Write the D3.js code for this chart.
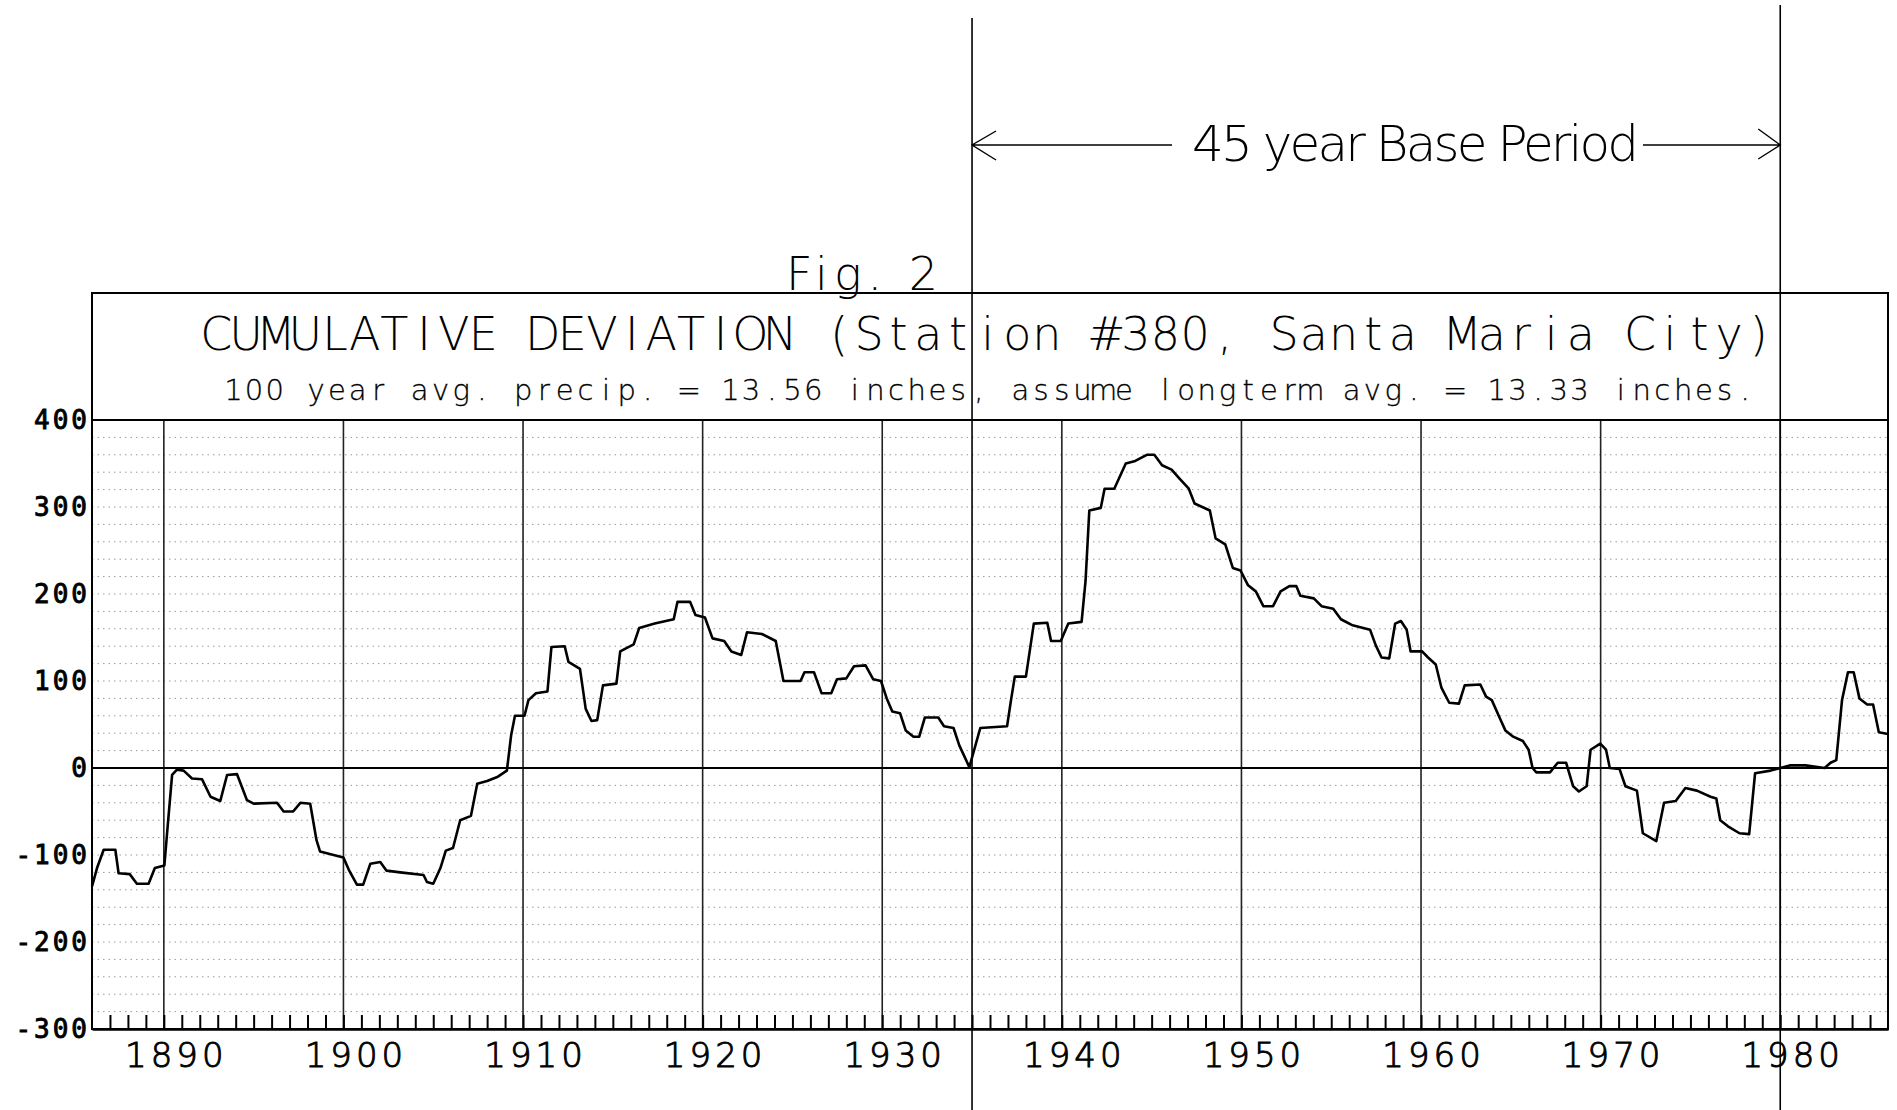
<!DOCTYPE html>
<html>
<head>
<meta charset="utf-8">
<script src="https://cdn.jsdelivr.net/npm/d3@7"></script>
<style>
body { margin: 0; background: #fff; }
svg { display: block; }
</style>
</head>
<body>
<div id="chart"></div>
<script>
// cumulative deviation
var years = [
  1886.0, 1886.28, 1886.65, 1887.3, 1887.48, 1888.1, 1888.5, 1889.15, 1889.5, 1890.03,
  1890.18, 1890.46, 1890.73, 1891.1, 1891.57, 1892.13, 1892.6, 1893.14, 1893.52, 1894.07,
  1894.63, 1895.0, 1896.3, 1896.67, 1897.2, 1897.6, 1898.15, 1898.5, 1898.7, 1899.45,
  1900.0, 1900.3, 1900.75, 1901.1, 1901.5, 1902.05, 1902.4, 1903.16, 1904.46, 1904.65,
  1905.0, 1905.4, 1905.7, 1906.1, 1906.5, 1907.1, 1907.45, 1908.0, 1908.6, 1909.1,
  1909.34, 1909.55, 1910.08, 1910.3, 1910.72, 1911.36, 1911.58, 1912.32, 1912.53, 1913.17,
  1913.49, 1913.81, 1914.13, 1914.45, 1915.2, 1915.41, 1916.16, 1916.47, 1917.33, 1918.39,
  1918.6, 1919.3, 1919.6, 1920.13, 1920.55, 1921.2, 1921.6, 1922.15, 1922.47, 1923.3,
  1924.07, 1924.5, 1925.45, 1925.67, 1926.2, 1926.62, 1927.16, 1927.48, 1928.0, 1928.43,
  1929.07, 1929.5, 1929.93, 1930.25, 1930.56, 1930.99, 1931.31, 1931.74, 1932.06, 1932.37,
  1933.12, 1933.44, 1933.97, 1934.29, 1934.85, 1935.46, 1936.95, 1937.17, 1937.38, 1938.0,
  1938.44, 1939.19, 1939.4, 1939.94, 1940.36, 1941.1, 1941.32, 1941.53, 1942.17, 1942.38,
  1942.92, 1943.56, 1944.09, 1944.73, 1945.15, 1945.58, 1946.11, 1946.54, 1947.07, 1947.39,
  1948.24, 1948.56, 1949.1, 1949.52, 1949.95, 1950.37, 1950.8, 1951.22, 1951.76, 1952.18,
  1952.67, 1953.06, 1953.28, 1954.03, 1954.46, 1955.11, 1955.54, 1956.19, 1957.16, 1957.48,
  1957.8, 1958.23, 1958.56, 1958.88, 1959.2, 1959.42, 1960.06, 1960.39, 1960.82, 1961.14,
  1961.57, 1962.11, 1962.43, 1963.3, 1963.62, 1963.94, 1964.37, 1964.7, 1965.13, 1965.67,
  1965.99, 1966.21, 1966.42, 1967.18, 1967.61, 1968.08, 1968.47, 1968.79, 1969.22, 1969.44,
  1969.98, 1970.3, 1970.51, 1971.05, 1971.38, 1972.02, 1972.35, 1973.1, 1973.53, 1974.18,
  1974.72, 1975.36, 1976.12, 1976.44, 1976.66, 1977.09, 1977.73, 1978.27, 1978.6, 1979.46,
  1980.53, 1981.4, 1982.47, 1982.8, 1983.12, 1983.44, 1983.77, 1984.09, 1984.41, 1984.84,
  1985.17, 1985.49, 1986.0
];
var deviation = [
  -136, -115, -94, -94, -121, -122, -133, -133, -115, -112,
  -75, -8, -2, -3, -12, -13, -33, -38, -8, -7,
  -37, -41, -40, -50, -50, -40, -41, -83, -96, -100,
  -103, -117, -134, -134, -110, -108, -118, -120, -123, -131,
  -133, -115, -95, -92, -60, -55, -18, -15, -10, -3,
  38, 60, 60, 78, 86, 88, 139, 140, 122, 114,
  68, 54, 55, 95, 97, 134, 142, 161, 166, 171,
  191, 191, 176, 173, 149, 146, 134, 130, 156, 154,
  146, 100, 100, 110, 110, 86, 86, 102, 103, 117,
  118, 102, 100, 80, 65, 63, 43, 36, 36, 58,
  58, 48, 46, 26, 1, 46, 48, 78, 105, 105,
  166, 167, 146, 146, 166, 168, 215, 296, 299, 321,
  321, 350, 353, 360, 360, 348, 343, 333, 321, 304,
  296, 264, 257, 230, 227, 210, 203, 186, 186, 203,
  209, 209, 198, 195, 186, 183, 171, 164, 159, 141,
  127, 126, 166, 169, 159, 134, 134, 127, 119, 92,
  75, 74, 95, 96, 82, 78, 58, 43, 36, 31,
  21, 0, -5, -5, 6, 6, -21, -27, -21, 21,
  28, 21, 0, -1, -21, -26, -75, -84, -40, -38,
  -23, -26, -33, -35, -60, -67, -75, -76, -6, -3,
  3, 3, 0, 6, 9, 78, 110, 110, 80, 73,
  73, 41, 39
];

var yTicks = [400, 300, 200, 100, 0, -100, -200, -300];
var decades = [1890, 1900, 1910, 1920, 1930, 1940, 1950, 1960, 1970, 1980];
var basePeriod = [1935, 1980];

var titleText = "CUMULATIVE DEVIATION (Station #380, Santa Maria City)";
var subtitleText = "100 year avg. precip. = 13.56 inches, assume longterm avg. = 13.33 inches.";
var baseNote = "45 year Base Period";
var figNote = "Fig. 2";

var width = 1897;
var height = 1110;
var plotFont = "'DejaVu Sans Mono', 'Liberation Mono', monospace";
var thinFont = "'DejaVu Sans', 'Noto Sans', sans-serif";

var svg = d3.select("#chart").append("svg")
  .attr("width", width)
  .attr("height", height);

var x = d3.scaleLinear().domain([1886, 1986]).range([92, 1888]);
var y = d3.scaleLinear().domain([-300, 400]).range([1029, 420]);
var headTop = 293;

//plotter text is fixed pitch: one cell per character, glyph centred in it
function cellCentres(str, start, pitch) {
  return d3.range(str.length).map(function(i) { return (start + (i + 0.5) * pitch).toFixed(1); }).join(" ");
}

//faint dotted lines every 20
var dots = d3.range(-280, 400, 20).filter(function(d) { return d !== 0; });
svg.append("g").selectAll("line")
  .data(dots)
  .enter().append("line")
  .attr("x1", x(1886)).attr("x2", x(1986))
  .attr("y1", function(d) { return y(d); })
  .attr("y2", function(d) { return y(d); })
  .attr("stroke", "#9a9a9a")
  .attr("stroke-width", 1)
  .attr("stroke-dasharray", "1.5,4");

//decade grid
svg.append("g").selectAll("line")
  .data(decades)
  .enter().append("line")
  .attr("x1", function(d) { return x(d); })
  .attr("x2", function(d) { return x(d); })
  .attr("y1", y(400)).attr("y2", y(-300))
  .attr("stroke", "#222")
  .attr("stroke-width", 1.6);

//yearly ticks along the bottom
var tickAxis = d3.axisBottom(x)
  .tickValues(d3.range(1887, 1986))
  .tickSizeInner(-14)
  .tickSizeOuter(0)
  .tickFormat("");
svg.append("g")
  .attr("transform", "translate(0," + y(-300) + ")")
  .call(tickAxis)
  .call(function(g) {
    g.select(".domain").attr("stroke", "#000").attr("stroke-width", 2.4);
    g.selectAll(".tick line").attr("stroke", "#000").attr("stroke-width", 2);
  });

//decade labels
var labelAxis = d3.axisBottom(x)
  .tickValues(decades)
  .tickSize(0)
  .tickPadding(0)
  .tickFormat(d3.format("d"));
svg.append("g")
  .attr("transform", "translate(0," + y(-300) + ")")
  .call(labelAxis)
  .call(function(g) {
    g.select(".domain").remove();
    g.selectAll(".tick text")
      .attr("x", 12)
      .attr("y", 38)
      .attr("dy", 0)
      .attr("fill", "#000")
      .attr("stroke", "#000")
      .attr("stroke-width", 0.9)
      .style("font-family", thinFont)
      .style("font-weight", 200)
      .style("font-size", "34px")
      .style("letter-spacing", "4px");
  });

//value labels
var yAxis = d3.axisLeft(y)
  .tickValues(yTicks)
  .tickSize(0)
  .tickPadding(2)
  .tickFormat(function(d) { return d < 0 ? "-" + Math.abs(d) : String(d); });
svg.append("g")
  .attr("transform", "translate(" + x(1886) + ",0)")
  .call(yAxis)
  .call(function(g) {
    g.select(".domain").remove();
    g.selectAll(".tick text")
      .attr("fill", "#000")
      .attr("stroke", "#000")
      .attr("stroke-width", 0.9)
      .attr("dy", "0.34em")
      .style("font-family", plotFont)
      .style("font-size", "26px")
      .style("letter-spacing", "3px");
  });

//zero line
svg.append("line")
  .attr("x1", x(1886)).attr("x2", x(1986))
  .attr("y1", y(0)).attr("y2", y(0))
  .attr("stroke", "#000")
  .attr("stroke-width", 2);

//frame: header box + plot box
svg.append("rect")
  .attr("x", x(1886)).attr("y", headTop)
  .attr("width", x(1986) - x(1886))
  .attr("height", y(-300) - headTop)
  .attr("fill", "none")
  .attr("stroke", "#000")
  .attr("stroke-width", 2);
svg.append("line")
  .attr("x1", x(1886)).attr("x2", x(1986))
  .attr("y1", y(400)).attr("y2", y(400))
  .attr("stroke", "#000")
  .attr("stroke-width", 2);

//title lines
svg.append("text")
  .attr("x", cellCentres(titleText, 201.6, 29.66))
  .attr("y", 350)
  .attr("text-anchor", "middle")
  .style("font-family", thinFont)
  .style("font-weight", 200)
  .style("font-size", "46px")
  .text(titleText);
svg.append("text")
  .attr("x", cellCentres(subtitleText, 223, 20.71))
  .attr("y", 400)
  .attr("text-anchor", "middle")
  .attr("stroke", "#000")
  .attr("stroke-width", 0.3)
  .style("font-family", thinFont)
  .style("font-weight", 200)
  .style("font-size", "29px")
  .text(subtitleText);

//the curve
var points = years.map(function(yr, i) { return [yr, deviation[i]]; });
var line = d3.line()
  .x(function(d) { return x(d[0]); })
  .y(function(d) { return y(d[1]); });
svg.append("path")
  .datum(points)
  .attr("d", line)
  .attr("fill", "none")
  .attr("stroke", "#000")
  .attr("stroke-width", 2.6)
  .attr("stroke-linejoin", "round");

//hand drawn base period marks
var tops = [18, 5];
svg.append("g").selectAll("line")
  .data(basePeriod)
  .enter().append("line")
  .attr("x1", function(d) { return x(d); })
  .attr("x2", function(d) { return x(d); })
  .attr("y1", function(d, i) { return tops[i]; })
  .attr("y2", height)
  .attr("stroke", "#000")
  .attr("stroke-width", 1.6);

var arrowY = 145;
var x0 = x(basePeriod[0]);
var x1 = x(basePeriod[1]);
svg.append("path")
  .attr("d", "M" + x0 + "," + arrowY + "H1172" +
    "M" + (x0 + 24) + "," + (arrowY - 14) + "L" + x0 + "," + arrowY + "L" + (x0 + 24) + "," + (arrowY + 15) +
    "M1643," + arrowY + "H" + x1 +
    "M" + (x1 - 22) + "," + (arrowY - 16) + "L" + x1 + "," + arrowY + "L" + (x1 - 22) + "," + (arrowY + 14))
  .attr("fill", "none")
  .attr("stroke", "#000")
  .attr("stroke-width", 1.4);

svg.append("text")
  .attr("x", 1192).attr("y", 161)
  .attr("textLength", 447)
  .attr("lengthAdjust", "spacing")
  .style("font-family", thinFont)
  .style("font-weight", 200)
  .style("font-size", "50px")
  .text(baseNote);

svg.append("text")
  .attr("x", 786).attr("y", 290)
  .attr("textLength", 152)
  .attr("lengthAdjust", "spacing")
  .style("font-family", thinFont)
  .style("font-weight", 200)
  .style("font-size", "46px")
  .text(figNote);
</script>
</body>
</html>
